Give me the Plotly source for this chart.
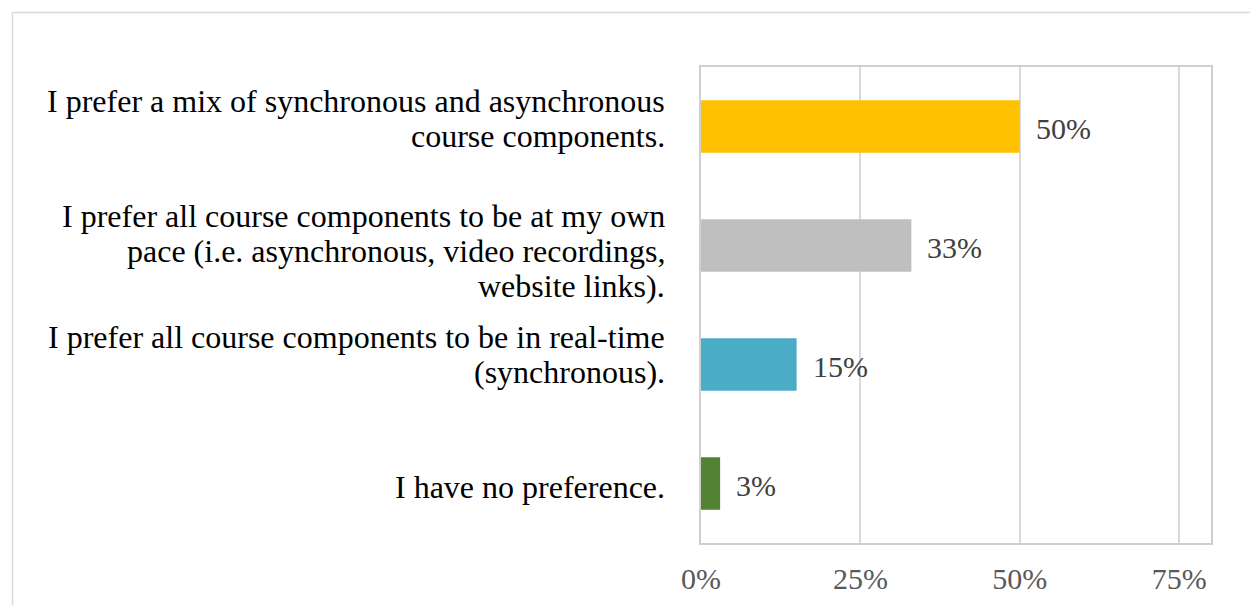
import plotly.graph_objects as go

# Survey responses: preferred course delivery format
categories = [
    "I prefer a mix of synchronous and asynchronous<br>course components.",
    "I prefer all course components to be at my own<br>pace (i.e. asynchronous, video recordings,<br>website links).",
    "I prefer all course components to be in real-time<br>(synchronous).",
    "I have no preference.",
]
percentages = [50, 33, 15, 3]
bar_colors = ["#FFC000", "#BFBFBF", "#4BACC6", "#548235"]
tick_values = [0, 25, 50, 75]
tick_labels = ["0%", "25%", "50%", "75%"]

W, H = 1250, 605
M_L, M_R, M_T, M_B = 701, 39, 67, 62
plot_w = W - M_L - M_R
plot_h = H - M_T - M_B

SERIF = "Times New Roman"
LINE_GAP = 35
# small vertical nudges (px, positive = down) for each wrapped category label
LABEL_NUDGE = [-8, 5, -10, 3]

fig = go.Figure(
    go.Bar(
        x=percentages,
        y=categories,
        orientation="h",
        marker=dict(color=bar_colors, line=dict(width=0)),
        hoverinfo="skip",
    )
)

annotations = []
# value labels just past the end of each bar
for cat, val in zip(categories, percentages):
    annotations.append(
        dict(
            x=val, y=cat, xref="x", yref="y",
            text=f"{val}%", showarrow=False,
            xanchor="left", yanchor="middle", xshift=14, yshift=-2,
            font=dict(family=SERIF, size=30, color="#404040"),
        )
    )
# category labels, right aligned, one annotation per line for tight spacing
for cat, nudge in zip(categories, LABEL_NUDGE):
    lines = cat.split("<br>")
    n = len(lines)
    for i, line in enumerate(lines):
        annotations.append(
            dict(
                x=0, y=cat, xref="paper", yref="y",
                text=line, showarrow=False,
                xanchor="right", yanchor="middle", xshift=-34,
                yshift=((n - 1) / 2 - i) * LINE_GAP - nudge,
                font=dict(family=SERIF, size=32, color="#000000"),
            )
        )

# outer chart frame: only its top and left edges fall inside the canvas
def px_x(v):
    return (v - M_L) / plot_w

def px_y(v):
    return (H - M_B - v) / plot_h

frame_line = dict(color="#D9D9D9", width=1.5)
shapes = [
    dict(type="line", xref="paper", yref="paper",
         x0=px_x(12.5), x1=px_x(W), y0=px_y(12.5), y1=px_y(12.5),
         line=frame_line, layer="below"),
    dict(type="line", xref="paper", yref="paper",
         x0=px_x(12.5), x1=px_x(12.5), y0=px_y(12.5), y1=px_y(H),
         line=frame_line, layer="below"),
]

fig.update_layout(
    width=W, height=H, autosize=False,
    margin=dict(l=M_L, r=M_R, t=M_T, b=M_B, pad=0, autoexpand=False),
    paper_bgcolor="white", plot_bgcolor="white",
    bargap=0.56,
    showlegend=False,
    annotations=annotations,
    shapes=shapes,
    xaxis=dict(
        range=[0, 80], tickvals=tick_values, ticktext=tick_labels,
        showgrid=True, gridcolor="#D9D9D9", gridwidth=1.5,
        showline=True, linecolor="#CFCFCF", linewidth=1.5, mirror=True,
        zeroline=False, ticks="", ticklabelstandoff=8, automargin=False,
        tickfont=dict(family=SERIF, size=30, color="#595959"),
        fixedrange=True,
    ),
    yaxis=dict(
        categoryorder="array", categoryarray=categories,
        range=[3.5, -0.5], showticklabels=False, automargin=False,
        showgrid=False, zeroline=False,
        showline=True, linecolor="#CFCFCF", linewidth=1.5, mirror=True,
        ticks="", fixedrange=True,
    ),
)

fig.write_html("out.html", config={"displayModeBar": False, "responsive": False})
